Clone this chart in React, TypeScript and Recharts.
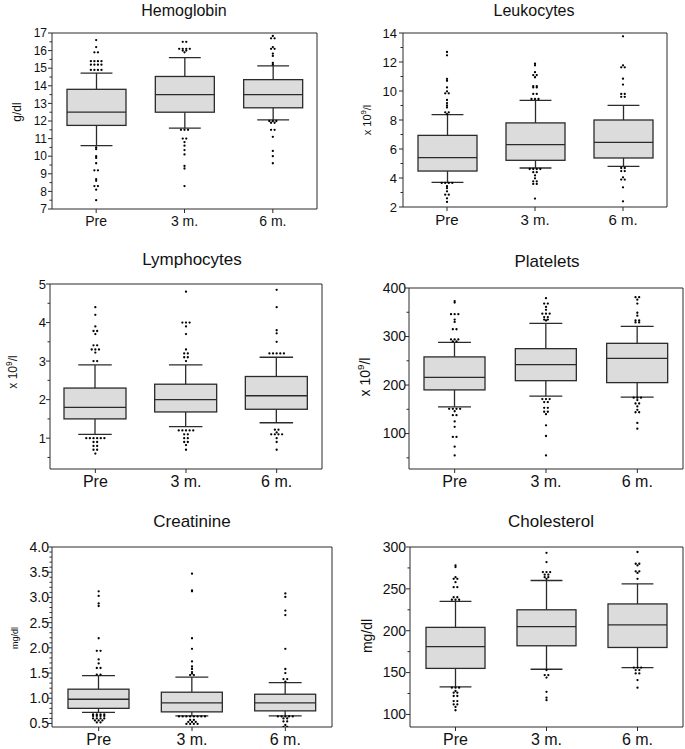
import React from 'react';
import { ComposedChart, Bar, Scatter, XAxis, YAxis } from 'recharts';

const categories = ['Pre', '3 m.', '6 m.'];

// Hemoglobin (g/dl)
const hemoWhiskerLow = [10.6, 11.6, 12.06];
const hemoQ1 = [11.75, 12.5, 12.75];
const hemoMedian = [12.5, 13.5, 13.5];
const hemoQ3 = [13.8, 14.53, 14.35];
const hemoWhiskerHigh = [14.72, 15.6, 15.13];
const hemoOutliers = [
  [16.6, 16.2, 15.9, 15.9, 15.4, 15.4, 15.4, 15.4, 15.2, 15.2, 15.2, 15.2, 14.9, 14.9, 14.9, 14.9, 10.5, 10.4, 10.0, 9.9, 9.6, 9.2, 9.2, 8.7, 8.6, 8.3, 8.3, 8.1, 7.5],
  [16.5, 16.5, 16.1, 16.1, 16.1, 16.1, 16.0, 16.0, 15.9, 11.5, 11.5, 11.5, 11.0, 11.0, 10.8, 10.6, 10.35, 10.1, 9.45, 9.3, 8.3],
  [16.83, 16.7, 16.7, 16.2, 16.1, 16.1, 15.83, 15.7, 15.3, 15.2, 12.0, 12.0, 12.0, 11.9, 11.9, 11.5, 11.5, 11.1, 10.3, 10.0, 9.6],
];
const hemoTicks = [7, 8, 9, 10, 11, 12, 13, 14, 15, 16, 17];
const hemoMinorTicks = [7.5, 8.5, 9.5, 10.5, 11.5, 12.5, 13.5, 14.5, 15.5, 16.5];

// Leukocytes (x10^9/l)
const leukoWhiskerLow = [3.7, 4.69, 4.8];
const leukoQ1 = [4.48, 5.22, 5.38];
const leukoMedian = [5.4, 6.3, 6.46];
const leukoQ3 = [6.94, 7.8, 8.0];
const leukoWhiskerHigh = [8.37, 9.36, 9.01];
const leukoOutliers = [
  [12.69, 12.46, 10.83, 10.7, 10.25, 9.98, 9.84, 9.84, 9.38, 9.17, 9.0, 8.87, 8.53, 8.53, 8.4, 3.66, 3.66, 3.66, 3.66, 3.43, 3.3, 3.08, 2.85, 2.85, 2.6, 2.35],
  [11.88, 11.77, 11.3, 11.1, 11.1, 10.95, 10.34, 10.34, 10.25, 10.25, 9.8, 9.8, 9.45, 9.45, 9.45, 4.62, 4.62, 4.62, 4.62, 4.4, 4.4, 4.18, 3.98, 3.77, 3.77, 3.59, 3.59, 2.58],
  [13.77, 11.77, 11.63, 11.63, 10.85, 10.44, 9.8, 9.8, 9.6, 9.6, 4.69, 4.69, 4.48, 4.48, 4.05, 3.89, 3.89, 3.36, 2.39],
];
const leukoTicks = [2, 4, 6, 8, 10, 12, 14];
const leukoMinorTicks = [3, 5, 7, 9, 11, 13];

// Lymphocytes (x10^9/l)
const lymphoWhiskerLow = [1.1, 1.3, 1.4];
const lymphoQ1 = [1.5, 1.68, 1.75];
const lymphoMedian = [1.8, 2.0, 2.1];
const lymphoQ3 = [2.3, 2.4, 2.6];
const lymphoWhiskerHigh = [2.9, 2.9, 3.1];
const lymphoOutliers = [
  [4.4, 4.2, 3.9, 3.78, 3.78, 3.7, 3.41, 3.41, 3.3, 3.3, 3.3, 3.22, 3.0, 3.0, 1.0, 1.0, 1.0, 1.0, 1.0, 1.0, 0.9, 0.9, 0.8, 0.8, 0.7, 0.7, 0.6],
  [4.8, 4.0, 4.0, 4.0, 3.9, 3.7, 3.3, 3.2, 3.2, 3.1, 3.1, 3.0, 1.2, 1.2, 1.2, 1.2, 1.2, 1.1, 1.1, 1.0, 1.0, 0.9, 0.9, 0.82, 0.7],
  [4.85, 4.4, 3.8, 3.72, 3.5, 3.2, 3.2, 3.2, 3.2, 3.2, 1.22, 1.22, 1.15, 1.1, 1.1, 1.1, 1.1, 1.0, 0.9, 0.7],
];
const lymphoTicks = [1, 2, 3, 4, 5];
const lymphoMinorTicks = [0.5, 1.5, 2.5, 3.5, 4.5];

// Platelets (x10^9/l)
const pltWhiskerLow = [155, 177, 175];
const pltQ1 = [190, 209, 205];
const pltMedian = [216, 242, 255];
const pltQ3 = [258, 275, 286];
const pltWhiskerHigh = [288, 327, 321];
const pltOutliers = [
  [373, 370, 346, 346, 346, 335, 330, 315, 315, 294, 294, 294, 290, 290, 151, 151, 151, 151, 146, 138, 138, 125, 114, 93, 93, 73, 55],
  [379, 368, 368, 361, 355, 347, 347, 347, 340, 340, 335, 335, 333, 171, 171, 171, 165, 165, 153, 153, 145, 145, 140, 117, 95, 55],
  [381, 381, 376, 368, 349, 343, 333, 333, 329, 329, 174, 174, 174, 169, 162, 162, 156, 149, 144, 144, 122, 110],
];
const pltTicks = [100, 200, 300, 400];
const pltMinorTicks = [50, 150, 250, 350];

// Creatinine (mg/dl)
const creaWhiskerLow = [0.72, 0.65, 0.65];
const creaQ1 = [0.8, 0.73, 0.75];
const creaMedian = [0.98, 0.91, 0.91];
const creaQ3 = [1.18, 1.12, 1.08];
const creaWhiskerHigh = [1.45, 1.42, 1.31];
const creaOutliers = [
  [3.12, 3.03, 2.88, 2.83, 2.19, 1.94, 1.94, 1.77, 1.69, 1.6, 1.6, 1.47, 1.47, 0.68, 0.68, 0.68, 0.68, 0.65, 0.65, 0.65, 0.65, 0.6, 0.6, 0.6, 0.6, 0.56, 0.56, 0.56, 0.52, 0.52],
  [3.47, 3.14, 3.12, 2.19, 1.98, 1.73, 1.63, 1.58, 1.52, 1.49, 1.46, 1.46, 0.64, 0.64, 0.64, 0.64, 0.64, 0.64, 0.64, 0.64, 0.57, 0.57, 0.53, 0.53, 0.53, 0.49, 0.49, 0.49, 0.49],
  [3.08, 3.01, 2.74, 2.65, 1.98, 1.58, 1.5, 1.38, 1.38, 1.33, 0.64, 0.64, 0.64, 0.64, 0.64, 0.6, 0.6, 0.54, 0.54, 0.47, 0.43, 0.43],
];
const creaTicks = [0.5, 1.0, 1.5, 2.0, 2.5, 3.0, 3.5, 4.0];
const creaMinorTicks = [0.6, 0.7, 0.8, 0.9, 1.1, 1.2, 1.3, 1.4, 1.6, 1.7, 1.8, 1.9, 2.1, 2.2, 2.3, 2.4, 2.6, 2.7, 2.8, 2.9, 3.1, 3.2, 3.3, 3.4, 3.6, 3.7, 3.8, 3.9];

// Cholesterol (mg/dl)
const cholWhiskerLow = [133, 154, 156];
const cholQ1 = [155, 182, 180];
const cholMedian = [181, 205, 207];
const cholQ3 = [204, 225, 232];
const cholWhiskerHigh = [235, 260, 256];
const cholOutliers = [
  [278, 276, 264, 262, 262, 258, 252, 252, 240, 240, 237, 237, 237, 132, 132, 132, 128, 126, 126, 122, 122, 116, 116, 112, 112, 109, 105],
  [293, 282, 270, 270, 270, 267, 267, 264, 264, 262, 153, 147, 147, 144, 127, 120, 117],
  [294, 280, 280, 278, 271, 271, 269, 262, 156, 156, 156, 153, 153, 149, 149, 141, 132],
];
const cholTicks = [100, 150, 200, 250, 300];
const cholMinorTicks = [125, 175, 225, 275];

type Row = { name: string; range: [number, number]; lo: number; q1: number; med: number; q3: number; hi: number };

function buildRows(lo: number[], q1: number[], med: number[], q3: number[], hi: number[]): Row[] {
  return categories.map((name, i) => ({ name, range: [lo[i], hi[i]], lo: lo[i], q1: q1[i], med: med[i], q3: q3[i], hi: hi[i] }));
}

const DOT_STEP = 0.04;
function buildPoints(lists: number[][]) {
  const pts: { x: number; v: number }[] = [];
  lists.forEach((vals, i) => {
    const counts = new Map<number, number>();
    vals.forEach((v) => counts.set(v, (counts.get(v) || 0) + 1));
    const seen = new Map<number, number>();
    vals.forEach((v) => {
      const n = counts.get(v) || 1;
      const k = seen.get(v) || 0;
      seen.set(v, k + 1);
      pts.push({ x: i + (k - (n - 1) / 2) * DOT_STEP, v });
    });
  });
  return pts;
}

const INK = '#2b2b2b';
const BOX_FILL = '#dcdcdc';

function makeBoxShape(rows: Row[]) {
  return (props: any) => {
    const { x, y, width, height, index } = props;
    const d: Row = (props.payload && props.payload.q1 !== undefined) ? props.payload : rows[index];
    if (!d || height === undefined) return <g />;
    const span = d.hi - d.lo;
    const px = (v: number) => y + (height * (d.hi - v)) / span;
    const cx = x + width / 2;
    const capHalf = width * 0.27;
    const yQ3 = px(d.q3);
    const yQ1 = px(d.q1);
    const yMed = px(d.med);
    return (
      <g>
        <line x1={cx} x2={cx} y1={y} y2={yQ3} stroke={INK} strokeWidth={1.3} />
        <line x1={cx} x2={cx} y1={yQ1} y2={y + height} stroke={INK} strokeWidth={1.3} />
        <line x1={cx - capHalf} x2={cx + capHalf} y1={y} y2={y} stroke={INK} strokeWidth={1.3} />
        <line x1={cx - capHalf} x2={cx + capHalf} y1={y + height} y2={y + height} stroke={INK} strokeWidth={1.3} />
        <rect x={x} y={yQ3} width={width} height={yQ1 - yQ3} fill={BOX_FILL} stroke={INK} strokeWidth={1.3} />
        <line x1={x} x2={x + width} y1={yMed} y2={yMed} stroke={INK} strokeWidth={1.3} />
      </g>
    );
  };
}

const Dot = (props: any) => {
  const { cx, cy } = props;
  if (cx === undefined || cy === undefined) return <g />;
  return <circle cx={cx} cy={cy} r={1.15} fill="#000" />;
};

type PanelDef = {
  title: string;
  titleX: number; titleY: number; titleSize: number;
  yLabel: React.ReactNode; yLabelX: number; yLabelY: number; yLabelSize: number;
  left: number; top: number; width: number; height: number;
  mt: number; mr: number; yw: number; xh: number;
  domain: [number, number];
  ticks: number[]; minor: number[];
  fmt: (v: number) => string;
  yFont: number; xFont: number; gap: number; barSize: number;
  rows: Row[]; points: { x: number; v: number }[];
};

const intFmt = (v: number) => String(v);
const oneDec = (v: number) => v.toFixed(1);

const sup = (
  <span>x 10<sup style={{ fontSize: '70%', lineHeight: 0 }}>9</sup>/l</span>
);

const panels: PanelDef[] = [
  {
    title: 'Hemoglobin', titleX: 184, titleY: 11, titleSize: 16,
    yLabel: 'g/dl', yLabelX: 17, yLabelY: 112, yLabelSize: 12,
    left: 0, top: 0, width: 319, height: 239, mt: 32, mr: 1, yw: 52, xh: 30,
    domain: [7, 17], ticks: hemoTicks, minor: hemoMinorTicks, fmt: intFmt,
    yFont: 12, xFont: 14, gap: 5, barSize: 59,
    rows: buildRows(hemoWhiskerLow, hemoQ1, hemoMedian, hemoQ3, hemoWhiskerHigh),
    points: buildPoints(hemoOutliers),
  },
  {
    title: 'Leukocytes', titleX: 534, titleY: 11, titleSize: 16,
    yLabel: sup, yLabelX: 367, yLabelY: 120, yLabelSize: 11,
    left: 340, top: 0, width: 332, height: 237, mt: 32, mr: 4, yw: 63, xh: 30,
    domain: [2, 14], ticks: leukoTicks, minor: leukoMinorTicks, fmt: intFmt,
    yFont: 13, xFont: 15, gap: 6, barSize: 59,
    rows: buildRows(leukoWhiskerLow, leukoQ1, leukoMedian, leukoQ3, leukoWhiskerHigh),
    points: buildPoints(leukoOutliers),
  },
  {
    title: 'Lymphocytes', titleX: 192, titleY: 260, titleSize: 17,
    yLabel: sup, yLabelX: 13, yLabelY: 372, yLabelSize: 12,
    left: 0, top: 245, width: 327, height: 254, mt: 38, mr: 4, yw: 50, xh: 30,
    domain: [0.2, 5], ticks: lymphoTicks, minor: lymphoMinorTicks, fmt: intFmt,
    yFont: 13, xFont: 16, gap: 4, barSize: 62,
    rows: buildRows(lymphoWhiskerLow, lymphoQ1, lymphoMedian, lymphoQ3, lymphoWhiskerHigh),
    points: buildPoints(lymphoOutliers),
  },
  {
    title: 'Platelets', titleX: 547, titleY: 262, titleSize: 17,
    yLabel: sup, yLabelX: 365, yLabelY: 377, yLabelSize: 14,
    left: 340, top: 245, width: 344, height: 254, mt: 42, mr: 0, yw: 69, xh: 30,
    domain: [27, 400], ticks: pltTicks, minor: pltMinorTicks, fmt: intFmt,
    yFont: 14, xFont: 16, gap: 3, barSize: 61,
    rows: buildRows(pltWhiskerLow, pltQ1, pltMedian, pltQ3, pltWhiskerHigh),
    points: buildPoints(pltOutliers),
  },
  {
    title: 'Creatinine', titleX: 192, titleY: 522, titleSize: 17,
    yLabel: 'mg/dl', yLabelX: 15, yLabelY: 638, yLabelSize: 9,
    left: 0, top: 495, width: 337, height: 254, mt: 51, mr: 4, yw: 52, xh: 22,
    domain: [0.43, 4], ticks: creaTicks, minor: creaMinorTicks, fmt: oneDec,
    yFont: 14, xFont: 16, gap: 3, barSize: 61,
    rows: buildRows(creaWhiskerLow, creaQ1, creaMedian, creaQ3, creaWhiskerHigh),
    points: buildPoints(creaOutliers),
  },
  {
    title: 'Cholesterol', titleX: 551, titleY: 522, titleSize: 17,
    yLabel: 'mg/dl', yLabelX: 367, yLabelY: 636, yLabelSize: 14,
    left: 340, top: 495, width: 344, height: 254, mt: 51, mr: 0, yw: 70, xh: 22,
    domain: [85, 300], ticks: cholTicks, minor: cholMinorTicks, fmt: intFmt,
    yFont: 14, xFont: 16, gap: 4, barSize: 59,
    rows: buildRows(cholWhiskerLow, cholQ1, cholMedian, cholQ3, cholWhiskerHigh),
    points: buildPoints(cholOutliers),
  },
];

function Panel({ p }: { p: PanelDef }) {
  const allTicks = [...p.ticks, ...p.minor].sort((a, b) => a - b);
  const isMajor = (v: number) => p.ticks.some((t) => Math.abs(t - v) < 1e-9);
  const renderTick = (props: any) => {
    const { x, y, payload } = props;
    const v = payload.value as number;
    const major = isMajor(v);
    return (
      <g>
        <line x1={x - (major ? 4 : 2.5)} x2={x} y1={y} y2={y} stroke={INK} strokeWidth={1} />
        {major && (
          <text x={x - p.gap} y={y} dy="0.35em" textAnchor="end" fontSize={p.yFont} fill="#111">
            {p.fmt(v)}
          </text>
        )}
      </g>
    );
  };
  const boxShape = makeBoxShape(p.rows);
  return (
    <>
      <div style={{ position: 'absolute', left: p.titleX, top: p.titleY, transform: 'translate(-50%, -50%)', fontSize: p.titleSize, whiteSpace: 'nowrap', color: '#111' }}>
        {p.title}
      </div>
      <div style={{ position: 'absolute', left: p.yLabelX, top: p.yLabelY, transform: 'translate(-50%, -50%) rotate(-90deg)', fontSize: p.yLabelSize, whiteSpace: 'nowrap', color: '#111' }}>
        {p.yLabel}
      </div>
      <div style={{ position: 'absolute', left: p.left, top: p.top }}>
        <ComposedChart width={p.width} height={p.height} data={p.rows} margin={{ top: p.mt, right: p.mr, bottom: 0, left: 0 }}>
          <XAxis xAxisId="c" dataKey="name" type="category" height={p.xh} tickSize={4} tickMargin={3} interval={0}
            stroke={INK} tick={{ fontSize: p.xFont, fill: '#111' }} />
          <XAxis xAxisId="n" dataKey="x" type="number" orientation="top" domain={[-0.5, 2.5]} allowDataOverflow
            height={1} tick={false} tickLine={false} stroke={INK} />
          <YAxis yAxisId="l" type="number" domain={p.domain} allowDataOverflow width={p.yw} ticks={allTicks} interval={0}
            tickLine={false} tickSize={0} tickMargin={0} tick={renderTick} stroke={INK} />
          <YAxis yAxisId="r" type="number" orientation="right" domain={p.domain} allowDataOverflow width={1}
            tick={false} tickLine={false} stroke={INK} />
          <Bar xAxisId="c" yAxisId="l" dataKey="range" barSize={p.barSize} shape={boxShape} isAnimationActive={false} />
          <Scatter xAxisId="n" yAxisId="r" data={p.points} dataKey="v" shape={Dot} isAnimationActive={false} />
        </ComposedChart>
      </div>
    </>
  );
}

export default function App() {
  return (
    <div style={{ position: 'absolute', left: 0, top: 0, width: 685, height: 749, background: '#fff', fontFamily: "'Liberation Sans', Arial, sans-serif", overflow: 'hidden' }}>
      {panels.map((p) => (
        <Panel key={p.title} p={p} />
      ))}
    </div>
  );
}
